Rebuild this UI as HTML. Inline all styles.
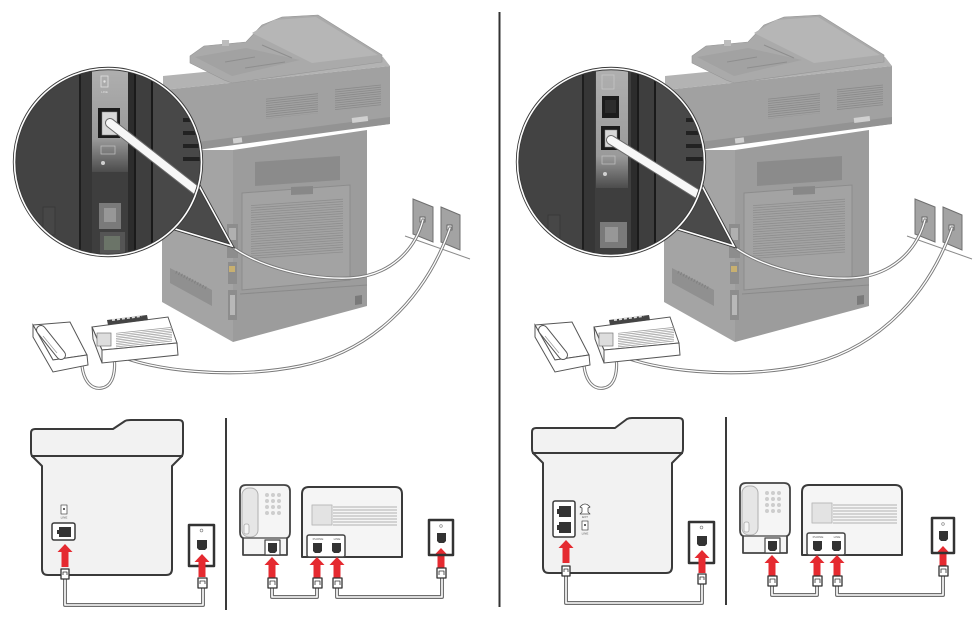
<!DOCTYPE html>
<html><head><meta charset="utf-8"><style>
html,body{margin:0;padding:0;background:#fff;}
svg{display:block;}
text{font-family:"Liberation Sans",sans-serif;}
</style></head><body>
<svg width="975" height="620" viewBox="0 0 975 620" xmlns="http://www.w3.org/2000/svg">
<defs>
<linearGradient id="sg" x1="0" y1="0" x2="0" y2="1">
<stop offset="0" stop-color="#b2b2b2"/><stop offset="0.7" stop-color="#9a9a9a"/><stop offset="1" stop-color="#4c4c4c"/>
</linearGradient>
<linearGradient id="sg2" x1="0" y1="0" x2="0" y2="1">
<stop offset="0" stop-color="#b2b2b2"/><stop offset="0.75" stop-color="#9a9a9a"/><stop offset="1" stop-color="#4c4c4c"/>
</linearGradient>
<clipPath id="cl"><circle cx="108" cy="162" r="93"/></clipPath>
<clipPath id="cr"><circle cx="611" cy="162" r="93"/></clipPath>

<g id="scene">
<path d="M405 236 L470 259" stroke="#8a8a8a" stroke-width="1" fill="none"/>
<path d="M413 199 L433 207 L433 242 L413 234 Z" fill="#a3a3a3" stroke="#6f6f6f" stroke-width="1"/>
<path d="M441 207 L460 215 L460 250 L441 242 Z" fill="#a3a3a3" stroke="#6f6f6f" stroke-width="1"/>
<rect x="420" y="217" width="5" height="5" fill="#eee" stroke="#555" stroke-width=".8"/>
<rect x="447" y="225" width="5" height="5" fill="#eee" stroke="#555" stroke-width=".8"/>
<path d="M162 150 L233 150 L233 342 L162 302 Z" fill="#a4a4a4"/>
<path d="M233 150 L367 130 L367 306 L233 342 Z" fill="#9c9c9c"/>
<path d="M170 268 L212 290 L212 306 L170 283 Z" fill="#909090"/>
<path d="M176 272 L206 288" stroke="#808080" stroke-width="3" stroke-dasharray="1 2"/>
<path d="M255 162 L340 156 L340 180 L255 186 Z" fill="#8b8b8b"/>
<path d="M242 193 L350 185 L350 280 L242 290 Z" fill="#a3a3a3" stroke="#8c8c8c" stroke-width="1"/>
<g transform="translate(297,232) skewY(-4)"><path d="M0 -30 L0 25" stroke="#8e8e8e" stroke-width="92" stroke-dasharray="0.8 1.6"/></g>
<path d="M291 187 L313 186 L313 194 L291 195 Z" fill="#888"/>
<path d="M240 294 L367 285" stroke="#8a8a8a" stroke-width="1"/>
<rect x="227" y="224" width="11" height="34" fill="#8d8d8d"/>
<rect x="229" y="228" width="7" height="12" fill="#b0b0b0"/>
<rect x="228" y="262" width="9" height="22" fill="#8d8d8d"/>
<rect x="229" y="266" width="6" height="6" fill="#c8b070"/>
<rect x="228" y="290" width="9" height="30" fill="#8d8d8d"/>
<rect x="230" y="295" width="5" height="20" fill="#b8b8b8"/>
<path d="M355 296 L362 295 L362 304 L355 305Z" fill="#7a7a7a"/>
<path d="M163 76 L245 68 L383 57 L390 66 L163 90 Z" fill="#b3b3b3"/>
<path d="M163 90 L390 66 L390 124 L163 152 Z" fill="#a1a1a1"/>
<path d="M190 143 L390 117 L390 124 L190 151 Z" fill="#939393"/>
<rect x="233" y="138" width="9" height="5" fill="#d0d0d0" transform="rotate(-7 237 140)"/>
<rect x="352" y="117" width="16" height="5" fill="#d0d0d0" transform="rotate(-7 360 120)"/>
<g transform="translate(292,104) skewY(-6)"><path d="M0 -8 L0 12" stroke="#8a8a8a" stroke-width="52" stroke-dasharray="0.8 1.4"/></g>
<g transform="translate(358,97) skewY(-6)"><path d="M0 -10 L0 12" stroke="#8a8a8a" stroke-width="46" stroke-dasharray="0.8 1.4"/></g>
<path d="M190 56 L204 46 L246 42 L262 25 L282 17 L318 15 L382 55 L382 62 L232 83 L224 80 L190 63 Z" fill="#aaaaaa" stroke="#959595" stroke-width=".6"/>
<path d="M252 33 L274 20 L316 17 L378 55 L312 63 Z" fill="#b6b6b6"/>
<path d="M195 57 L246 48 L300 60 L232 76 Z" fill="#a2a2a2"/>
<path d="M225 62 L255 57 M245 68 L285 62 M262 45 L292 58" stroke="#8e8e8e" stroke-width="1"/>
<rect x="222" y="40" width="7" height="6" fill="#bdbdbd"/>
<g fill="none" stroke-linecap="round">
<path d="M230 245 C250 262,300 280,350 278 C390 276,415 250,423 220" stroke="#7a7a7a" stroke-width="3.2"/>
<path d="M230 245 C250 262,300 280,350 278 C390 276,415 250,423 220" stroke="#fff" stroke-width="1.3"/>
<path d="M118 355 C150 370,230 380,300 366 C370 352,425 300,450 228" stroke="#7a7a7a" stroke-width="3.2"/>
<path d="M118 355 C150 370,230 380,300 366 C370 352,425 300,450 228" stroke="#fff" stroke-width="1.3"/>
<path d="M82 366 C84 382,92 390,102 388 C113 386,116 372,114 356" stroke="#7a7a7a" stroke-width="3.2"/>
<path d="M82 366 C84 382,92 390,102 388 C113 386,116 372,114 356" stroke="#fff" stroke-width="1.3"/>
</g>
<path d="M33 325 L70 322 L87 355 L53 360 Z" fill="#fff" stroke="#555" stroke-width="1"/>
<path d="M33 325 L33 337 L53 372 L88 365 L87 355 L53 360 Z" fill="#fff" stroke="#555" stroke-width="1"/>
<path d="M41 330 L61 355" stroke="#555" stroke-width="10" stroke-linecap="round"/>
<path d="M41 330 L61 355" stroke="#fff" stroke-width="8" stroke-linecap="round"/>
<path d="M43 336 L57 353" stroke="#999" stroke-width=".7"/>
<path d="M92 327 L168 317 L177 343 L102 350 Z" fill="#fff" stroke="#555" stroke-width="1"/>
<path d="M92 327 L102 350 L102 363 L93 339 Z" fill="#f4f4f4" stroke="#555" stroke-width="1"/>
<path d="M102 350 L177 343 L178 355 L102 363 Z" fill="#fff" stroke="#555" stroke-width="1"/>
<path d="M107 320 L147 315 L148 320 L108 325 Z" fill="#444"/>
<path d="M112 320 L142 316" stroke="#ddd" stroke-width="2" stroke-dasharray="3 2"/>
<rect x="97" y="333" width="14" height="13" fill="#ddd" stroke="#777" stroke-width=".7"/>
<g transform="translate(144,337) skewY(-6)"><path d="M0 -7 L0 8" stroke="#9a9a9a" stroke-width="56" stroke-dasharray="0.7 1"/></g>
</g>
</defs>

<use href="#scene"/>
<path d="M197 182 L232 246 L172 228 Z" fill="#4a4a4a"/>
<path d="M197 182 L232 246 L172 228" fill="none" stroke="#3a3a3a" stroke-width="3.4"/>
<path d="M197 182 L232 246 L172 228" fill="none" stroke="#fff" stroke-width="1.6"/>
<g clip-path="url(#cl)">
<rect x="14" y="68" width="190" height="190" fill="#3e3e3e"/>
<rect x="14" y="68" width="66" height="190" fill="#434343"/>
<rect x="79" y="68" width="2" height="190" fill="#1e1e1e"/>
<rect x="81" y="68" width="11" height="190" fill="#363636"/>
<rect x="128" y="68" width="7" height="190" fill="#2c2c2c"/>
<rect x="134" y="68" width="2" height="190" fill="#1a1a1a"/>
<rect x="151" y="68" width="2" height="190" fill="#1a1a1a"/>
<rect x="153" y="68" width="52" height="190" fill="#484848"/>
<rect x="183" y="118" width="22" height="4" fill="#222"/>
<rect x="183" y="131" width="22" height="4" fill="#222"/>
<rect x="183" y="144" width="22" height="4" fill="#222"/>
<rect x="183" y="157" width="22" height="4" fill="#222"/>
<rect x="92" y="60" width="36" height="112" fill="url(#sg)"/>
<rect x="101" y="76" width="7" height="11" fill="none" stroke="#e0e0e0" stroke-width=".8"/>
<circle cx="104.5" cy="81.5" r="1.2" fill="#e0e0e0"/>
<text x="104.5" y="93" font-size="3" fill="#e0e0e0" text-anchor="middle">LINE</text>
<rect x="98" y="108" width="22" height="30" fill="#1c1c1c"/>
<rect x="102" y="112" width="15" height="23" fill="#d8d8d8" stroke="#888" stroke-width=".5"/>
<rect x="101" y="146" width="14" height="8" fill="none" stroke="#c4c4c4" stroke-width=".7"/>
<circle cx="103" cy="163" r="2" fill="#d0d0d0"/>
<rect x="43" y="207" width="12" height="28" fill="#474747" stroke="#333" stroke-width=".6"/>
<rect x="99" y="203" width="22" height="26" fill="#7a7a7a"/>
<rect x="104" y="208" width="12" height="14" fill="#979797"/>
<rect x="100" y="232" width="25" height="22" fill="#555"/>
<rect x="104" y="236" width="16" height="14" fill="#6b7468"/>
<line x1="110" y1="123" x2="215" y2="205" stroke="#6a6a6a" stroke-width="10" stroke-linecap="round"/>
<line x1="110" y1="123" x2="215" y2="205" stroke="#f7f7f7" stroke-width="8" stroke-linecap="round"/>
</g>
<circle cx="108" cy="162" r="93.5" fill="none" stroke="#3a3a3a" stroke-width="3.4"/>
<circle cx="108" cy="162" r="93.5" fill="none" stroke="#fff" stroke-width="1.6"/>

<use href="#scene" transform="translate(502,0)"/>
<path d="M700 182 L734 246 L675 228 Z" fill="#4a4a4a"/>
<path d="M700 182 L734 246 L675 228" fill="none" stroke="#3a3a3a" stroke-width="3.4"/>
<path d="M700 182 L734 246 L675 228" fill="none" stroke="#fff" stroke-width="1.6"/>
<g clip-path="url(#cr)">
<rect x="517" y="68" width="190" height="190" fill="#3e3e3e"/>
<rect x="517" y="68" width="66" height="190" fill="#434343"/>
<rect x="582" y="68" width="2" height="190" fill="#1e1e1e"/>
<rect x="584" y="68" width="11" height="190" fill="#363636"/>
<rect x="631" y="68" width="7" height="190" fill="#2c2c2c"/>
<rect x="637" y="68" width="2" height="190" fill="#1a1a1a"/>
<rect x="654" y="68" width="2" height="190" fill="#1a1a1a"/>
<rect x="656" y="68" width="52" height="190" fill="#484848"/>
<rect x="686" y="118" width="22" height="4" fill="#222"/>
<rect x="686" y="131" width="22" height="4" fill="#222"/>
<rect x="686" y="144" width="22" height="4" fill="#222"/>
<rect x="686" y="157" width="22" height="4" fill="#222"/>
<rect x="596" y="60" width="32" height="128" fill="url(#sg2)"/>
<rect x="602" y="75" width="12" height="14" fill="none" stroke="#c8c8c8" stroke-width=".7"/>
<rect x="602" y="96" width="17" height="22" fill="#1c1c1c"/>
<rect x="605" y="100" width="11" height="13" fill="#2c2c2c"/>
<rect x="601" y="126" width="19" height="24" fill="#1c1c1c"/>
<rect x="605" y="130" width="12" height="17" fill="#d8d8d8" stroke="#888" stroke-width=".5"/>
<rect x="602" y="156" width="13" height="8" fill="none" stroke="#c4c4c4" stroke-width=".7"/>
<circle cx="605" cy="174" r="2" fill="#d0d0d0"/>
<rect x="548" y="215" width="12" height="28" fill="#474747" stroke="#333" stroke-width=".6"/>
<rect x="600" y="222" width="27" height="26" fill="#7a7a7a"/>
<rect x="605" y="227" width="13" height="15" fill="#979797"/>
<line x1="611" y1="140" x2="715" y2="205" stroke="#6a6a6a" stroke-width="10" stroke-linecap="round"/>
<line x1="611" y1="140" x2="715" y2="205" stroke="#f7f7f7" stroke-width="8" stroke-linecap="round"/>
</g>
<circle cx="611" cy="162" r="93.5" fill="none" stroke="#3a3a3a" stroke-width="3.4"/>
<circle cx="611" cy="162" r="93.5" fill="none" stroke="#fff" stroke-width="1.6"/>

<line x1="499.5" y1="12" x2="499.5" y2="607" stroke="#333" stroke-width="2"/>

<g stroke-linejoin="round">
<g fill="none">
<path d="M65 579 L65 605 L203 605 L203 588" stroke="#6e6e6e" stroke-width="4"/>
<path d="M65 579 L65 605 L203 605 L203 588" stroke="#fff" stroke-width="1.6"/>
</g>
<path d="M35 429 L113 429 L125 421 Q127 420 131 420 L179 420 Q183 420 183 424 L183 452 Q183 456 180 458 L172 466 L172 569 Q172 575 166 575 L48 575 Q42 575 42 569 L42 466 L34 458 Q31 456 31 452 L31 433 Q31 429 35 429 Z" fill="#f2f2f2" stroke="#3a3a3a" stroke-width="2"/>
<line x1="31" y1="456" x2="183" y2="456" stroke="#3a3a3a" stroke-width="2"/>
<rect x="61" y="505" width="6" height="9" fill="#fff" stroke="#555" stroke-width=".8"/>
<circle cx="64" cy="509" r="1" fill="#333"/>
<text x="64" y="518.5" font-size="3" fill="#555" text-anchor="middle">LINE</text>
<rect x="52" y="523" width="23" height="17" rx="2" fill="#fff" stroke="#3a3a3a" stroke-width="1.5"/>
<path d="M59 527 L71 527 L71 537 L59 537 L59 534 L57 534 L57 530 L59 530 Z" fill="#333"/>
<path d="M65 544 L72.5 552 L68.5 552 L68.5 567 L61.5 567 L61.5 552 L57.5 552 Z" fill="#e52a30"/>
<rect x="61" y="569" width="8" height="10" fill="#fff" stroke="#333" stroke-width="1.3"/>
<path d="M63 575 L63 572 L67 572 L67 575" fill="none" stroke="#333" stroke-width=".8"/>
<rect x="189" y="525" width="25" height="41" fill="#fff" stroke="#333" stroke-width="2.5"/>
<circle cx="201.5" cy="530.5" r="1.4" fill="none" stroke="#777" stroke-width=".6"/>
<path d="M197 540 L207 540 L207 548 L205 550 L199 550 L197 548 Z" fill="#333"/>
<path d="M202 554 L209.5 562 L205.5 562 L205.5 577 L198.5 577 L198.5 562 L194.5 562 Z" fill="#e52a30"/>
<rect x="198" y="578" width="9" height="10" fill="#fff" stroke="#333" stroke-width="1.3"/>
<path d="M200 584 L200 581 L205 581 L205 584" fill="none" stroke="#333" stroke-width=".8"/>
</g>
<line x1="226" y1="418" x2="226" y2="610" stroke="#3a3a3a" stroke-width="2"/>

<g stroke-linejoin="round">
<g fill="none">
<path d="M272 588 L272 597 L317 597 L317 588" stroke="#6e6e6e" stroke-width="4"/>
<path d="M272 588 L272 597 L317 597 L317 588" stroke="#fff" stroke-width="1.6"/>
<path d="M337 588 L337 597 L442 597 L442 578" stroke="#6e6e6e" stroke-width="4"/>
<path d="M337 588 L337 597 L442 597 L442 578" stroke="#fff" stroke-width="1.6"/>
</g>
<path d="M246 485 L284 485 Q290 485 290 491 L290 532 Q290 537 287 538 L287 555 L243 555 L243 538 Q240 537 240 532 L240 491 Q240 485 246 485 Z" fill="#f5f5f5" stroke="#444" stroke-width="1.8"/>
<line x1="243" y1="538" x2="287" y2="538" stroke="#444" stroke-width="1.2"/>
<rect x="242" y="488" width="16" height="49" rx="7" fill="#e6e6e6" stroke="#b0b0b0" stroke-width="1"/>
<rect x="244" y="524" width="5" height="10" rx="2" fill="#f5f5f5" stroke="#aaa" stroke-width=".8"/>
<g fill="#cdcdcd">
<circle cx="267" cy="495" r="2"/><circle cx="273" cy="495" r="2"/><circle cx="279" cy="495" r="2"/>
<circle cx="267" cy="501" r="2"/><circle cx="273" cy="501" r="2"/><circle cx="279" cy="501" r="2"/>
<circle cx="267" cy="507" r="2"/><circle cx="273" cy="507" r="2"/><circle cx="279" cy="507" r="2"/>
<circle cx="267" cy="513" r="2"/><circle cx="273" cy="513" r="2"/><circle cx="279" cy="513" r="2"/>
</g>
<rect x="265" y="540" width="15" height="15" fill="#fff" stroke="#444" stroke-width="1.2"/>
<path d="M268 543 L277 543 L277 551 L275 553 L270 553 L268 551 Z" fill="#333"/>
<path d="M302 557 L302 494 Q302 487 309 487 L395 487 Q402 487 402 494 L402 557 Z" fill="#f5f5f5" stroke="#3a3a3a" stroke-width="2"/>
<rect x="312" y="505" width="20" height="20" fill="#e3e3e3" stroke="#bbb" stroke-width="1"/>
<path d="M333 507 H397 M333 510 H397 M333 513 H397 M333 516 H397 M333 519 H397 M333 522 H397 M333 525 H397" stroke="#9a9a9a" stroke-width=".8"/>
<rect x="307" y="535" width="38" height="22" rx="2" fill="#fff" stroke="#444" stroke-width="1.5"/>
<text x="318" y="539.8" font-size="3" fill="#555" text-anchor="middle">PHONE</text>
<text x="337" y="539.8" font-size="3" fill="#555" text-anchor="middle">LINE</text>
<path d="M313 543 L322 543 L322 551 L320 553 L315 553 L313 551 Z" fill="#333"/>
<path d="M332 543 L341 543 L341 551 L339 553 L334 553 L332 551 Z" fill="#333"/>
<g fill="#e52a30">
<path d="M272 557 L279.5 565 L275.5 565 L275.5 578 L268.5 578 L268.5 565 L264.5 565 Z"/>
<path d="M317 557 L324.5 565 L320.5 565 L320.5 578 L313.5 578 L313.5 565 L309.5 565 Z"/>
<path d="M337 557 L344.5 565 L340.5 565 L340.5 578 L333.5 578 L333.5 565 L329.5 565 Z"/>
<path d="M441 548 L448.5 556 L444.5 556 L444.5 568 L437.5 568 L437.5 556 L433.5 556 Z"/>
</g>
<g fill="#fff" stroke="#333" stroke-width="1.3">
<rect x="268" y="578" width="9" height="10"/>
<rect x="313" y="578" width="9" height="10"/>
<rect x="333" y="578" width="9" height="10"/>
<rect x="437" y="568" width="9" height="10"/>
</g>
<g fill="none" stroke="#333" stroke-width=".8">
<path d="M270 585 V581 H275 V585"/><path d="M315 585 V581 H320 V585"/><path d="M335 585 V581 H340 V585"/><path d="M439 575 V571 H444 V575"/>
</g>
<rect x="429" y="520" width="24" height="35" fill="none" stroke="#333" stroke-width="2.5"/>
<circle cx="441" cy="526" r="1.3" fill="none" stroke="#777" stroke-width=".6"/>
<path d="M437 533 L446 533 L446 541 L444 543 L439 543 L437 541 Z" fill="#333"/>
</g>

<g stroke-linejoin="round">
<g fill="none">
<path d="M566 576 L566 603 L702 603 L702 584" stroke="#6e6e6e" stroke-width="4"/>
<path d="M566 576 L566 603 L702 603 L702 584" stroke="#fff" stroke-width="1.6"/>
</g>
<path d="M536 428 L615 428 L627 419 Q629 418 632 418 L679 418 Q683 418 683 422 L683 449 Q683 453 680 455 L672 463 L672 567 Q672 573 666 573 L549 573 Q543 573 543 567 L543 463 L535 455 Q532 453 532 449 L532 432 Q532 428 536 428 Z" fill="#f2f2f2" stroke="#3a3a3a" stroke-width="2"/>
<line x1="532" y1="453" x2="683" y2="453" stroke="#3a3a3a" stroke-width="2"/>
<rect x="553" y="501" width="22" height="36" rx="2" fill="#fff" stroke="#3a3a3a" stroke-width="1.5"/>
<path d="M559 506 L571 506 L571 517 L559 517 L559 514 L557 514 L557 509 L559 509 Z" fill="#333"/>
<path d="M559 522 L571 522 L571 533 L559 533 L559 530 L557 530 L557 525 L559 525 Z" fill="#333"/>
<path d="M580 507 Q585 501 590 507 L588 508 L588 512 L590 514 L580 514 L582 512 L582 508 Z" fill="#fff" stroke="#444" stroke-width=".8"/>
<text x="585" y="518" font-size="3" fill="#555" text-anchor="middle">EXT</text>
<rect x="582" y="521" width="6" height="9" fill="#fff" stroke="#555" stroke-width=".8"/>
<circle cx="585" cy="525" r="1" fill="#333"/>
<text x="585" y="534.5" font-size="3" fill="#555" text-anchor="middle">LINE</text>
<path d="M566 540 L573.5 548 L569.5 548 L569.5 563 L562.5 563 L562.5 548 L558.5 548 Z" fill="#e52a30"/>
<rect x="562" y="566" width="8" height="10" fill="#fff" stroke="#333" stroke-width="1.3"/>
<path d="M564 572 L564 569 L568 569 L568 572" fill="none" stroke="#333" stroke-width=".8"/>
<rect x="689" y="522" width="25" height="41" fill="#fff" stroke="#333" stroke-width="2.5"/>
<circle cx="701.5" cy="527.5" r="1.4" fill="none" stroke="#777" stroke-width=".6"/>
<path d="M697 536 L707 536 L707 544 L705 546 L699 546 L697 544 Z" fill="#333"/>
<path d="M702 550 L709.5 558 L705.5 558 L705.5 573 L698.5 573 L698.5 558 L694.5 558 Z" fill="#e52a30"/>
<rect x="698" y="574" width="8" height="10" fill="#fff" stroke="#333" stroke-width="1.3"/>
<path d="M700 580 L700 577 L704 577 L704 580" fill="none" stroke="#333" stroke-width=".8"/>
</g>
<line x1="726" y1="417" x2="726" y2="605" stroke="#3a3a3a" stroke-width="2"/>

<g transform="translate(500,-2)" stroke-linejoin="round">
<g fill="none">
<path d="M272 588 L272 597 L317 597 L317 588" stroke="#6e6e6e" stroke-width="4"/>
<path d="M272 588 L272 597 L317 597 L317 588" stroke="#fff" stroke-width="1.6"/>
<path d="M337 588 L337 597 L443 597 L443 578" stroke="#6e6e6e" stroke-width="4"/>
<path d="M337 588 L337 597 L443 597 L443 578" stroke="#fff" stroke-width="1.6"/>
</g>
<path d="M246 485 L284 485 Q290 485 290 491 L290 532 Q290 537 287 538 L287 555 L243 555 L243 538 Q240 537 240 532 L240 491 Q240 485 246 485 Z" fill="#f5f5f5" stroke="#444" stroke-width="1.8"/>
<line x1="243" y1="538" x2="287" y2="538" stroke="#444" stroke-width="1.2"/>
<rect x="242" y="488" width="16" height="49" rx="7" fill="#e6e6e6" stroke="#b0b0b0" stroke-width="1"/>
<rect x="244" y="524" width="5" height="10" rx="2" fill="#f5f5f5" stroke="#aaa" stroke-width=".8"/>
<g fill="#cdcdcd">
<circle cx="267" cy="495" r="2"/><circle cx="273" cy="495" r="2"/><circle cx="279" cy="495" r="2"/>
<circle cx="267" cy="501" r="2"/><circle cx="273" cy="501" r="2"/><circle cx="279" cy="501" r="2"/>
<circle cx="267" cy="507" r="2"/><circle cx="273" cy="507" r="2"/><circle cx="279" cy="507" r="2"/>
<circle cx="267" cy="513" r="2"/><circle cx="273" cy="513" r="2"/><circle cx="279" cy="513" r="2"/>
</g>
<rect x="265" y="540" width="15" height="15" fill="#fff" stroke="#444" stroke-width="1.2"/>
<path d="M268 543 L277 543 L277 551 L275 553 L270 553 L268 551 Z" fill="#333"/>
<path d="M302 557 L302 494 Q302 487 309 487 L395 487 Q402 487 402 494 L402 557 Z" fill="#f5f5f5" stroke="#3a3a3a" stroke-width="2"/>
<rect x="312" y="505" width="20" height="20" fill="#e3e3e3" stroke="#bbb" stroke-width="1"/>
<path d="M333 507 H397 M333 510 H397 M333 513 H397 M333 516 H397 M333 519 H397 M333 522 H397 M333 525 H397" stroke="#9a9a9a" stroke-width=".8"/>
<rect x="307" y="535" width="38" height="22" rx="2" fill="#fff" stroke="#444" stroke-width="1.5"/>
<text x="318" y="539.8" font-size="3" fill="#555" text-anchor="middle">PHONE</text>
<text x="337" y="539.8" font-size="3" fill="#555" text-anchor="middle">LINE</text>
<path d="M313 543 L322 543 L322 551 L320 553 L315 553 L313 551 Z" fill="#333"/>
<path d="M332 543 L341 543 L341 551 L339 553 L334 553 L332 551 Z" fill="#333"/>
<g fill="#e52a30">
<path d="M272 557 L279.5 565 L275.5 565 L275.5 578 L268.5 578 L268.5 565 L264.5 565 Z"/>
<path d="M317 557 L324.5 565 L320.5 565 L320.5 578 L313.5 578 L313.5 565 L309.5 565 Z"/>
<path d="M337 557 L344.5 565 L340.5 565 L340.5 578 L333.5 578 L333.5 565 L329.5 565 Z"/>
<path d="M443 548 L450.5 556 L446.5 556 L446.5 568 L439.5 568 L439.5 556 L435.5 556 Z"/>
</g>
<g fill="#fff" stroke="#333" stroke-width="1.3">
<rect x="268" y="578" width="9" height="10"/>
<rect x="313" y="578" width="9" height="10"/>
<rect x="333" y="578" width="9" height="10"/>
<rect x="439" y="568" width="9" height="10"/>
</g>
<g fill="none" stroke="#333" stroke-width=".8">
<path d="M270 585 V581 H275 V585"/><path d="M315 585 V581 H320 V585"/><path d="M335 585 V581 H340 V585"/><path d="M441 575 V571 H446 V575"/>
</g>
<rect x="432" y="520" width="22" height="35" fill="none" stroke="#333" stroke-width="2.5"/>
<circle cx="443" cy="526" r="1.3" fill="none" stroke="#777" stroke-width=".6"/>
<path d="M439 533 L448 533 L448 541 L446 543 L441 543 L439 541 Z" fill="#333"/>
</g>
</svg>
</body></html>
